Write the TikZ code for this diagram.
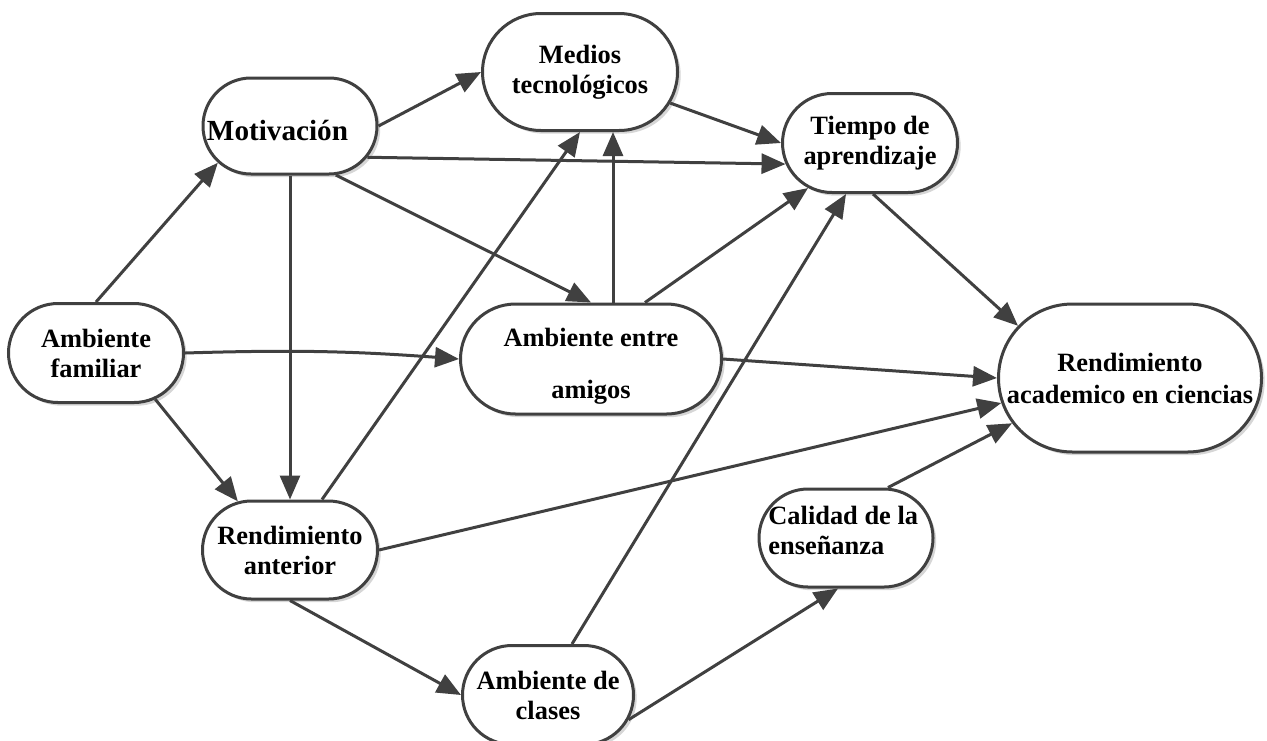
\documentclass[tikz,border=0pt]{standalone}
\usepackage{fontspec}
\setmainfont{Liberation Serif}
\usetikzlibrary{shapes.misc,arrows.meta,shadows}
\definecolor{ln}{HTML}{404040}
\begin{document}
\begin{tikzpicture}[x=0.5pt,y=0.5pt,
  box/.style={rounded rectangle, draw=ln, line width=1.5pt, fill=white, inner sep=0pt,
    align=center, font=\fontsize{13.2pt}{15pt}\selectfont\bfseries,
    drop shadow={shadow xshift=1.6pt, shadow yshift=-1.6pt, fill=black!16, opacity=1}},
  lbl/.style={inner sep=0pt, font=\fontsize{13.2pt}{15pt}\selectfont\bfseries},
  arr/.style={draw=ln, line width=1.5pt, -{Triangle[length=12pt,width=10pt]}}]
\useasboundingbox (0,0) rectangle (1267,-740);

\node[box, minimum width=87.5pt, minimum height=49.5pt] (fam) at (96,-353) {Ambiente\\familiar};
\node[box, minimum width=87pt, minimum height=48pt] (mot) at (290,-126) {};
\node[lbl, anchor=base, font=\fontsize{14.6pt}{16pt}\selectfont\bfseries] (motT) at (277.5,-140) {Motivación};
\node[box, minimum width=97.5pt, minimum height=58.5pt] (med) at (580,-72) {Medios\\tecnológicos};
\node[box, minimum width=87.5pt, minimum height=49.5pt] (tie) at (870,-143) {Tiempo de\\aprendizaje};
\node[box, minimum width=130.5pt, minimum height=55pt] (ami) at (591,-359) {\rule{0pt}{16pt}Ambiente entre\\[11pt]amigos};
\node[box, minimum width=131.5pt, minimum height=74pt] (aca) at (1130,-378) {Rendimiento\\[1pt]academico en ciencias};
\node[box, minimum width=87.5pt, minimum height=49pt] (ant) at (290,-550) {Rendimiento\\anterior};
\node[box, minimum width=85.5pt, minimum height=49.5pt] (cla) at (548,-695) {Ambiente de\\clases};
\node[box, minimum width=87pt, minimum height=49pt] (cal) at (846,-538) {};
\node[lbl, anchor=west, align=left] (calT) at (768,-530) {Calidad de la\\enseñanza};

\draw[arr] (fam.north) -- (mot.207.5);
\draw[arr] (fam.east) to[bend left=3] (ami.west);
\draw[arr] (fam.-38) -- (ant.137);
\draw[arr] (mot.south) -- (ant.north);
\draw[arr] (mot.east) -- (med.west);
\draw[arr] (mot.-22) -- (tie.194);
\draw[arr] (mot.-47) -- (ami.north);
\draw[arr] ([xshift=16pt]ant.north) -- (med.south);
\draw[arr] ([xshift=11pt]ami.north) -- ([xshift=16.5pt]med.south);
\draw[arr] ([xshift=27pt]ami.north) -- (tie.216);
\draw[arr] (med.-19) -- (tie.west);
\draw[arr] ([xshift=1.5pt]tie.south) -- (aca.155.5);
\draw[arr] (ami.east) -- (aca.west);
\draw[arr] (ant.east) -- (aca.191.6);
\draw[arr] ([xshift=21pt]cal.north) -- (aca.201.3);
\draw[arr] (ant.south) -- (cla.west);
\draw[arr] ([xshift=12pt]cla.north) -- ([xshift=-12pt]tie.south);
\draw[arr] (cla.-17) -- ([xshift=-4pt]cal.south);
\end{tikzpicture}
\end{document}
